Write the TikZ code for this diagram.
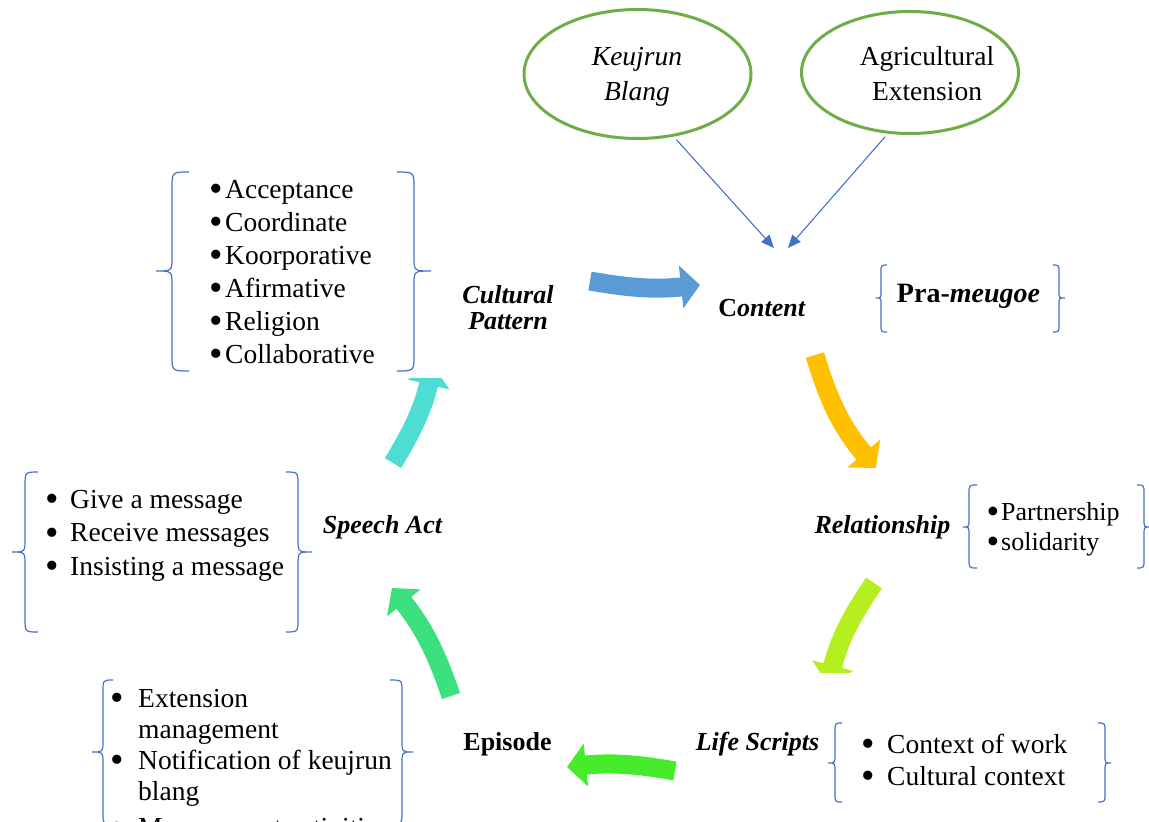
\documentclass[tikz,border=0pt]{standalone}
\usepackage{fontspec}
\setmainfont{Liberation Serif}
\usetikzlibrary{arrows.meta,shapes.geometric}
\definecolor{ellgreen}{HTML}{70AD47}
\definecolor{braceblue}{HTML}{4472C4}
\definecolor{arrblue}{HTML}{5B9BD5}
\definecolor{arryellow}{HTML}{FFC000}
\definecolor{arrlime}{HTML}{B5EF1F}
\definecolor{arrgreen}{HTML}{46EB2C}
\definecolor{arrsea}{HTML}{3BE17F}
\definecolor{arrcyan}{HTML}{4DDDD2}
\newcommand\bul[1]{\makebox[#1pt][l]{\raisebox{-3.5pt}{\scalebox{1.4}{•}}}}
\newcommand\nobul[1]{\hspace*{#1pt}}
\newcommand\bracepath[8]{%
  \draw[bracestyle] (#1,#4) .. controls (#2,#4) .. (#2,{#4+#7}) -- (#2,{#5-#8})
    .. controls (#2,#5) .. (#3,#5) .. controls (#2,#5) .. (#2,{#5+#8})
    -- (#2,{#6-#7}) .. controls (#2,#6) .. (#1,#6);}
\tikzset{
  bracestyle/.style={draw=braceblue, line width=1.2pt},
  ell/.style={ellipse, draw=ellgreen, line width=3pt, inner sep=0pt},
  etext/.style={inner sep=0pt, anchor=base, font=\fontsize{27.5}{35}\selectfont},
  lbl/.style={inner sep=0pt, anchor=base, font=\fontsize{26}{26}\selectfont\bfseries\itshape},
  lst/.style={inner sep=0pt, anchor=base west},
  thinarrow/.style={draw=braceblue, line width=1.1pt, -{Triangle[length=13pt,width=11pt]}},
  fat/.style={line width=19pt, -{Triangle[length=19pt,width=42pt]}},
}
\begin{document}
\begin{tikzpicture}[x=1pt,y=-1pt]
\useasboundingbox (0,0) rectangle (1149,822);

% top ellipses
\node[ell, minimum width=227pt, minimum height=129pt] (keu) at (637.5,74) {};
\node[ell, minimum width=217pt, minimum height=122pt] (agr) at (910,72.5) {};
\node[etext] (keut) at (637,65) {\begin{tabular}[t]{@{}c@{}}\itshape Keujrun\\\itshape Blang\end{tabular}};
\node[etext] (agrt) at (927,65) {\begin{tabular}[t]{@{}c@{}}Agricultural\\Extension\end{tabular}};

% labels
\node[lbl] (cult) at (508,303) {\begin{tabular}[t]{@{}c@{}}Cultural\\Pattern\end{tabular}};
\node[lbl, font=\fontsize{26}{26}\selectfont\bfseries] (content) at (762,316) {C\textit{ontent}};
\node[inner sep=0pt, anchor=base, font=\fontsize{28}{28}\selectfont\bfseries] (pra) at (968.5,302) {Pra-\textit{meugoe}};
\node[lbl] (rel) at (882.5,533) {Relationship};
\node[lbl] (life) at (757.5,750) {Life Scripts};
\node[lbl, font=\fontsize{26}{26}\selectfont\bfseries] (epi) at (507.5,750) {Episode};
\node[lbl] (speech) at (382.5,533) {Speech Act};

% lists
\node[lst, font=\fontsize{27.5}{33}\selectfont] (cultlist) at (209.5,198) {\begin{tabular}[t]{@{}l@{}}
\bul{15.5}Acceptance\\ \bul{15.5}Coordinate\\ \bul{15.5}Koorporative\\
\bul{15.5}Afirmative\\ \bul{15.5}Religion\\ \bul{15.5}Collaborative\end{tabular}};
\node[lst, font=\fontsize{27.5}{33.5}\selectfont] (speechlist) at (45.5,508) {\begin{tabular}[t]{@{}l@{}}
\bul{24.5}Give a message\\ \bul{24.5}Receive messages\\ \bul{24.5}Insisting a message\end{tabular}};
\node[lst, font=\fontsize{27.5}{32}\selectfont] (lifelist) at (861.5,753) {\begin{tabular}[t]{@{}l@{}}
\bul{25.5}Context of work\\ \bul{25.5}Cultural context\end{tabular}};
\node[lst, font=\fontsize{26}{30}\selectfont] (rellist) at (986.5,520) {\begin{tabular}[t]{@{}l@{}}
\bul{14.5}Partnership\\ \bul{14.5}solidarity\end{tabular}};
\node[lst, font=\fontsize{27.5}{31}\selectfont] (epilist) at (110.5,707) {\begin{tabular}[t]{@{}l@{}}
\bul{27.5}Extension\\ \nobul{27.5}management\\ \bul{27.5}Notification of keujrun\\
\nobul{27.5}blang\\[5pt] \bul{27.5}Management activities\end{tabular}};

% braces
\bracepath{189}{172}{156}{172}{271}{371}{16}{14}
\bracepath{397}{414}{431}{172}{271}{371}{16}{14}
\bracepath{887}{881}{876}{265}{298}{332}{8}{7}
\bracepath{1053}{1059}{1065}{265}{298}{332}{8}{7}
\bracepath{977}{969}{963}{485}{527}{568}{9}{8}
\bracepath{1137}{1144}{1150}{485}{527}{568}{9}{8}
\bracepath{842}{835}{828}{723}{763}{802}{9}{8}
\bracepath{1098}{1105}{1111}{723}{763}{802}{9}{8}
\bracepath{38}{25}{12}{472}{552}{632}{14}{13}
\bracepath{286}{298}{312}{472}{552}{632}{14}{13}
\bracepath{113}{103}{92}{680}{752}{824}{12}{11}
\bracepath{390}{402}{413}{680}{752}{824}{12}{11}

% thin arrows into Content
\coordinate (cin1) at (774,248);
\coordinate (cin2) at (788,248);
\draw[thinarrow, shorten <=4pt] (keu.-60) -- (cin1);
\draw[thinarrow, shorten <=4pt] (agr.-110) -- (cin2);

% cycle arrows
\coordinate (a1s) at (590,281); \coordinate (a1e) at (700,285);
\coordinate (a2s) at (815,355); \coordinate (a2e) at (876,468);
\coordinate (a3s) at (874,583); \coordinate (a3e) at (828,684);
\coordinate (a4s) at (675,771); \coordinate (a4e) at (567,767);
\coordinate (a5s) at (451,696); \coordinate (a5e) at (392,588);
\coordinate (a6s) at (393,463); \coordinate (a6e) at (433,366);

\draw[fat, arrblue] (a1s) to[bend right=8] (a1e);
\draw[fat, arryellow] (a2s) to[bend right=12] (a2e);
\begin{scope}
  \clip (760,560) rectangle (940,672);
  \draw[fat, arrlime] (a3s) to[bend right=10] (a3e);
\end{scope}
\draw[fat, arrgreen] (a4s) to[bend right=8] (a4e);
\draw[fat, arrsea] (a5s) to[bend right=10] (a5e);
\begin{scope}
  \clip (300,378) rectangle (520,490);
  \draw[fat, arrcyan] (a6s) to[bend right=9] (a6e);
\end{scope}
\end{tikzpicture}
\end{document}
